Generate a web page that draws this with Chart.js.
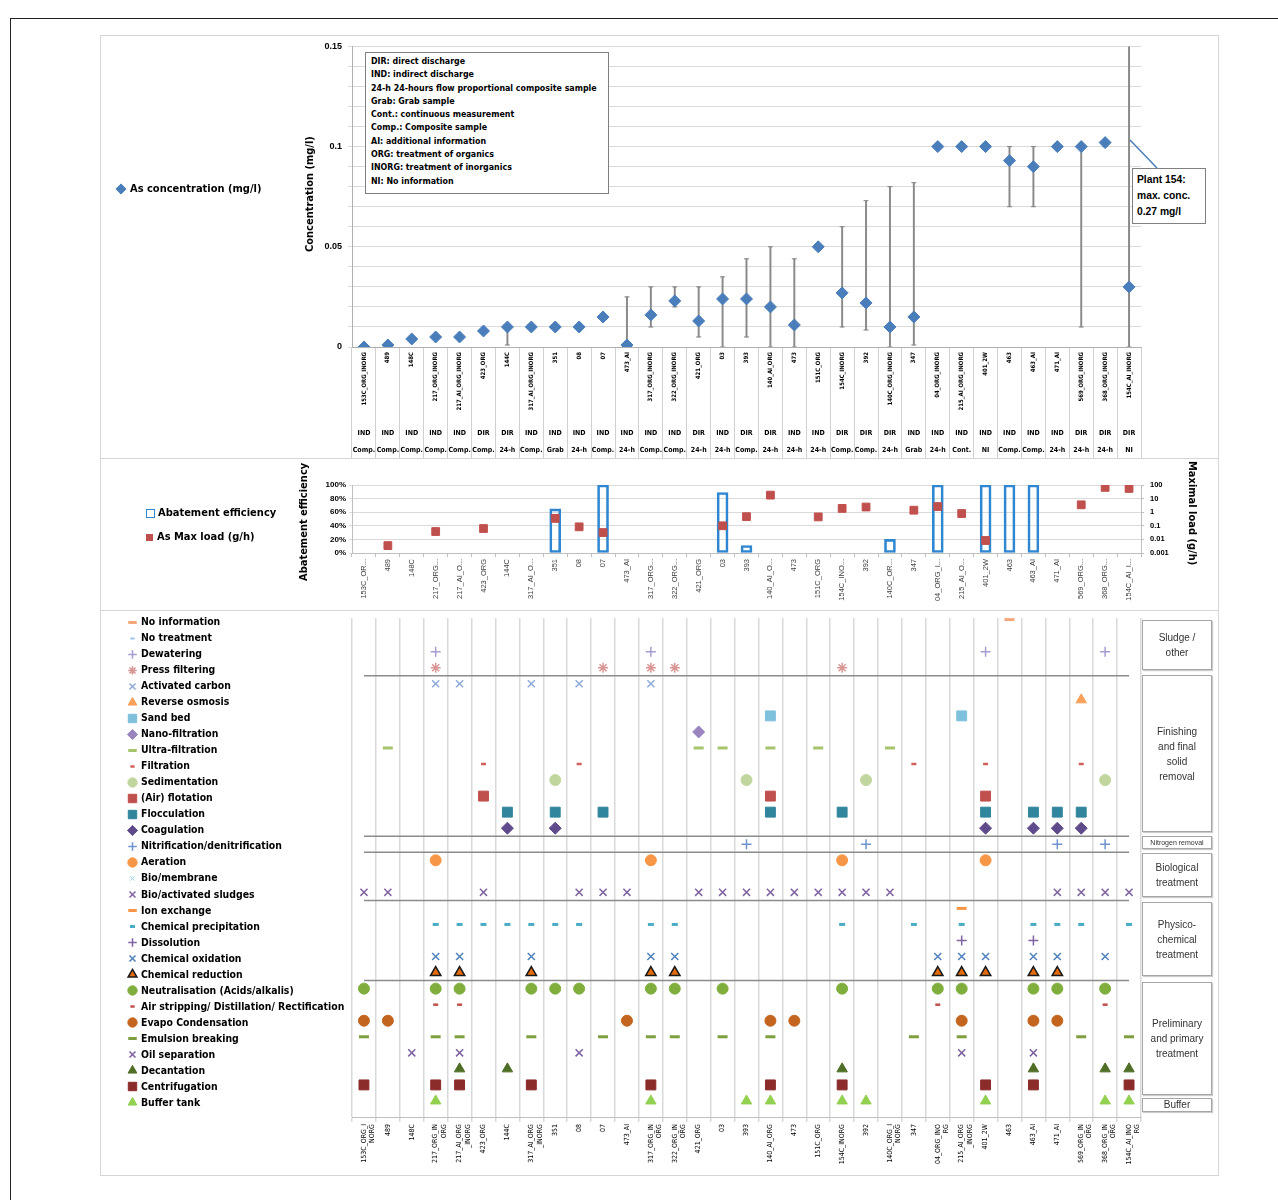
<!DOCTYPE html>
<html>
<head>
<meta charset="utf-8">
<title>As concentration, load and treatment per plant</title>
<script src="https://cdn.jsdelivr.net/npm/chart.js@4.4.0/dist/chart.umd.min.js"></script>
<style>
body{margin:0;background:#fff;font-family:'Liberation Sans',Arial,sans-serif;color:#000;}
#page{position:relative;width:1278px;height:1200px;overflow:hidden;}
.outer{position:absolute;left:10px;top:18px;width:1400px;height:1400px;border:1.5px solid #222;}
.frame{position:absolute;border:1px solid #d6d6d6;box-sizing:border-box;}
canvas{position:absolute;}
.narrow{font-family:'Liberation Sans Narrow','DejaVu Sans Condensed','Arial Narrow',sans-serif;}
.vtitle{position:absolute;white-space:nowrap;font-weight:bold;font-size:11px;transform-origin:0 0;}
.note{position:absolute;left:365px;top:52px;width:244px;height:142px;border:1px solid #808080;background:#fff;box-sizing:border-box;padding:2px 0 0 5px;font-weight:bold;font-size:8.8px;line-height:13.3px;white-space:nowrap;}
.plant{position:absolute;left:1132px;top:168px;width:74px;height:56px;border:1px solid #808080;background:#fff;box-sizing:border-box;padding:3px 0 0 4px;font-weight:bold;font-size:10.3px;line-height:16px;}
.leg{position:absolute;height:16px;line-height:16px;white-space:nowrap;font-weight:bold;font-size:11px;}
.leg canvas{position:static;vertical-align:middle;margin-right:2px;}
.grp{position:absolute;left:1142px;width:70px;border:1px solid #a6a6a6;box-sizing:border-box;font-size:10px;line-height:15px;color:#333;text-align:center;display:flex;align-items:center;justify-content:center;box-shadow:1px 1px 1px #ccc;}
</style>
</head>
<body>
<div id="page">
  <div class="outer"></div>
  <div class="frame" style="left:100px;top:35px;width:1119px;height:424px;"></div>
  <div class="frame" style="left:100px;top:458px;width:1119px;height:153px;"></div>
  <div class="frame" style="left:100px;top:610px;width:1119px;height:566px;"></div>

  <canvas id="cTop" width="1118" height="423" style="left:100px;top:35px;"></canvas>
  <canvas id="cMid" width="1118" height="152" style="left:100px;top:458px;"></canvas>
  <canvas id="cBot" width="1118" height="565" style="left:100px;top:610px;"></canvas>

  <div class="vtitle narrow" style="left:303px;top:252px;transform:rotate(-90deg);">Concentration (mg/l)</div>
  <div class="vtitle narrow" style="left:297px;top:581px;transform:rotate(-90deg);">Abatement efficiency</div>
  <div class="vtitle narrow" style="left:1199px;top:461px;transform:rotate(90deg);">Maximal load (g/h)</div>

  <div class="leg narrow" id="legConc" style="left:114px;top:181px;"></div>
  <div class="leg narrow" style="left:146px;top:505px;"><span style="display:inline-block;width:7px;height:7px;border:1.5px solid #2f86d1;vertical-align:middle;margin-right:3px;"></span>Abatement efficiency</div>
  <div class="leg narrow" style="left:146px;top:529px;"><span style="display:inline-block;width:7px;height:7px;background:#c0504d;vertical-align:middle;margin-right:4px;"></span>As Max load (g/h)</div>

  <div class="note narrow">DIR: direct discharge<br>IND: indirect discharge<br>24-h 24-hours flow proportional composite sample<br>Grab: Grab sample<br>Cont.: continuous measurement<br>Comp.: Composite sample<br>AI: additional information<br>ORG: treatment of organics<br>INORG: treatment of inorganics<br>NI: No information</div>

  <svg style="position:absolute;left:0;top:0;" width="1278" height="300"><line x1="1157" y1="168" x2="1130" y2="140" stroke="#4a7ebb" stroke-width="1.5"/></svg>
  <div class="plant">Plant 154:<br>max. conc.<br>0.27 mg/l</div>

  <div id="treatLegend"></div>

  <div class="grp" style="top:620px;height:50px;">Sludge /<br>other</div>
  <div class="grp" style="top:675px;height:157px;">Finishing<br>and final<br>solid<br>removal</div>
  <div class="grp" style="top:836px;height:13px;font-size:7px;line-height:9px;">Nitrogen removal</div>
  <div class="grp" style="top:853px;height:44px;">Biological<br>treatment</div>
  <div class="grp" style="top:902px;height:74px;">Physico-<br>chemical<br>treatment</div>
  <div class="grp" style="top:982px;height:113px;">Preliminary<br>and primary<br>treatment</div>
  <div class="grp" style="top:1098px;height:14px;line-height:12px;">Buffer</div>
</div>

<script>
// plants, in the order of the x axis
const plants = ['153C_ORG_INORG','489','148C','217_ORG_INORG','217_AI_ORG_INORG','423_ORG','144C','317_AI_ORG_INORG','351','08','07','473_AI','317_ORG_INORG','322_ORG_INORG','421_ORG','03','393','140_AI_ORG','473','151C_ORG','154C_INORG','392','140C_ORG_INORG','347','04_ORG_INORG','215_AI_ORG_INORG','401_2W','463','463_AI','471_AI','569_ORG_INORG','368_ORG_INORG','154C_AI_INORG'];
const discharge = ['IND','IND','IND','IND','IND','DIR','DIR','IND','IND','IND','IND','IND','IND','IND','DIR','IND','DIR','DIR','IND','IND','DIR','DIR','DIR','IND','IND','IND','IND','IND','IND','IND','DIR','DIR','DIR'];
const sampling = ['Comp.','Comp.','Comp.','Comp.','Comp.','Comp.','24-h','Comp.','Grab','24-h','Comp.','24-h','Comp.','Comp.','24-h','24-h','Comp.','24-h','24-h','24-h','Comp.','Comp.','24-h','Grab','24-h','Cont.','NI','Comp.','Comp.','24-h','24-h','24-h','NI'];
const midNames = ['153C_OR...','489','148C','217_ORG...','217_AI_O...','423_ORG','144C','317_AI_O...','351','08','07','473_AI','317_ORG...','322_ORG...','421_ORG','03','393','140_AI_O...','473','151C_ORG','154C_INO...','392','140C_OR...','347','04_ORG_I...','215_AI_O...','401_2W','463','463_AI','471_AI','569_ORG...','368_ORG...','154C_AI_I...'];
const bottomNames = [['153C_ORG_I','NORG'],'489','148C',['217_ORG_IN','ORG'],['217_AI_ORG','_INORG'],'423_ORG','144C',['317_AI_ORG','_INORG'],'351','08','07','473_AI',['317_ORG_IN','ORG'],['322_ORG_IN','ORG'],'421_ORG','03','393','140_AI_ORG','473','151C_ORG','154C_INORG','392',['140C_ORG_I','NORG'],'347',['04_ORG_INO','RG'],['215_AI_ORG','_INORG'],'401_2W','463','463_AI','471_AI',['569_ORG_IN','ORG'],['368_ORG_IN','ORG'],['154C_AI_INO','RG']];

// As concentration (mg/l), with min / max range
const conc    = [0,0.001,0.004,0.005,0.005,0.008,0.01,0.01,0.01,0.01,0.015,0.001,0.016,0.023,0.013,0.024,0.024,0.02,0.011,0.05,0.027,0.022,0.01,0.015,0.1,0.1,0.1,0.093,0.09,0.1,0.1,0.102,0.03];
const concMin = [null,null,null,null,null,null,0.001,null,null,null,null,0.001,0.01,0.02,0.005,0,0.005,0,0,null,0.01,0.0085,0,0.001,null,null,null,0.07,0.07,null,0.01,0.1,0];
const concMax = [null,null,null,null,null,null,0.01,null,null,null,null,0.025,0.03,0.03,0.03,0.035,0.044,0.05,0.044,null,0.06,0.073,0.08,0.082,null,null,null,0.1,0.1,null,0.1,0.103,0.27];
const concTicks = [0,0.05,0.1,0.15];

// abatement efficiency (%) and max load (g/h)
const abatement = [null,null,null,null,null,null,null,null,65,null,100,null,null,null,null,89,11,null,null,null,null,null,20,null,100,null,100,100,100,null,null,null,null];
const maxLoad = [null,0.0035,null,0.038,null,0.063,null,null,0.35,0.084,0.032,null,null,null,null,0.1,0.47,18,null,0.45,1.9,2.4,null,1.4,2.6,0.8,0.0083,null,null,null,3.5,67,56];
const loadTicks = [0.001,0.01,0.1,1,10,100];

// treatment steps and the plants (1-based column) that use them
const treatments = ['No information','No treatment','Dewatering','Press filtering','Activated carbon','Reverse osmosis','Sand bed','Nano-filtration','Ultra-filtration','Filtration','Sedimentation','(Air) flotation','Flocculation','Coagulation','Nitrification/denitrification','Aeration','Bio/membrane','Bio/activated sludges','Ion exchange','Chemical precipitation','Dissolution','Chemical oxidation','Chemical reduction','Neutralisation (Acids/alkalis)','Air stripping/ Distillation/ Rectification','Evapo Condensation','Emulsion breaking','Oil separation','Decantation','Centrifugation','Buffer tank'];
const usedAt = [
  [28],
  [],
  [4,13,27,32],
  [4,11,13,14,21],
  [4,5,8,10,13],
  [31],
  [18,26],
  [15],
  [2,15,16,18,20,23],
  [6,10,24,27,31],
  [9,17,22,32],
  [6,18,27],
  [7,9,11,18,21,27,29,30,31],
  [7,9,27,29,30,31],
  [17,22,30,32],
  [4,13,21,27],
  [],
  [1,2,6,10,11,12,15,16,17,18,19,20,21,22,23,30,31,32,33],
  [26],
  [4,5,6,7,8,9,10,13,14,21,24,26,29,30,31,33],
  [26,29],
  [4,5,8,13,14,25,26,27,29,30,32],
  [4,5,8,13,14,25,26,27,29,30],
  [1,4,5,8,9,10,13,14,16,21,25,26,29,30,32],
  [4,5,25,32],
  [1,2,12,18,19,26,29,30],
  [1,4,5,8,11,13,14,16,18,24,26,31,33],
  [3,5,10,26,29],
  [5,7,21,29,32,33],
  [1,4,5,8,13,18,21,27,29,33],
  [4,13,17,18,21,22,27,32,33]
];
const groupBreaks = [3.5,13.5,14.5,17.5,22.5];

// marker looks, one per treatment
const markers = [
  {s:'line',c:'#f5a67a',r:5,w:3},
  {s:'line',c:'#9cc3e5',r:2.5,w:2},
  {s:'cross',c:'#a79bcf',r:5,w:1.5},
  {s:'star',c:'#d99694',r:5,w:1.5},
  {s:'crossRot',c:'#8eaadb',r:5,w:1.5},
  {s:'triangle',c:'#f9a05a',r:6,w:1},
  {s:'rect',c:'#7fc0dc',r:7,w:1},
  {s:'rectRot',c:'#9a85bf',r:6,w:1},
  {s:'line',c:'#a5c46b',r:5,w:3},
  {s:'line',c:'#d0605c',r:2.5,w:2.5},
  {s:'circle',c:'#c1d69e',r:5.5,w:1},
  {s:'rect',c:'#c0504d',r:7,w:1},
  {s:'rect',c:'#31859c',r:7,w:1},
  {s:'rectRot',c:'#5f4b8b',r:6,w:1},
  {s:'cross',c:'#6f94cf',r:5,w:1.5},
  {s:'circle',c:'#f79646',r:5.5,w:1},
  {s:'crossRot',c:'#9cd3e8',r:3.5,w:1},
  {s:'crossRot',c:'#8064a2',r:5,w:1.5},
  {s:'line',c:'#f79646',r:5,w:3},
  {s:'line',c:'#4bacc6',r:3,w:3},
  {s:'cross',c:'#8064a2',r:5,w:1.5},
  {s:'crossRot',c:'#4f81bd',r:5,w:1.5},
  {s:'triangle',c:'#e46c0a',b:'#1a1a1a',r:6,w:1.5},
  {s:'circle',c:'#7fae3d',r:5.5,w:1},
  {s:'line',c:'#c0504d',r:2.5,w:2.5},
  {s:'circle',c:'#c3651e',r:5.5,w:1},
  {s:'line',c:'#7f9f3f',r:5,w:3},
  {s:'crossRot',c:'#7d60a0',r:5,w:1.5},
  {s:'triangle',c:'#4f6e26',r:6,w:1},
  {s:'rect',c:'#8b2c2b',r:7,w:1},
  {s:'triangle',c:'#92d050',r:6,w:1}
];

const NARROW = "'Liberation Sans Narrow','DejaVu Sans Condensed','Arial Narrow',sans-serif";
Chart.defaults.font.family = "'Liberation Sans',Arial,sans-serif";
Chart.defaults.color = '#000';
Chart.defaults.animation = false;
const noLegend = {legend:{display:false}, tooltip:{enabled:false}};

// small marker canvas for html legends
function markerIcon(m, w, h){
  const cv = document.createElement('canvas');
  cv.width = w; cv.height = h;
  const ctx = cv.getContext('2d');
  ctx.fillStyle = m.c;
  ctx.strokeStyle = m.b || m.c;
  ctx.lineWidth = m.w;
  Chart.helpers.drawPoint(ctx, {pointStyle:m.s, radius:m.r*0.85, borderWidth:m.w, rotation:0}, w/2, h/2);
  return cv;
}

// ---- top: concentration ----
const errRange = concMin.map((lo, i) => lo === null ? null : [lo, concMax[i]]);
const sampleRows = discharge.map((d, i) => [d, sampling[i]]);

new Chart(document.getElementById('cTop'), {
  type:'bar',
  data:{
    labels: plants,
    datasets:[
      {type:'line', label:'As concentration (mg/l)', data:conc, showLine:false, pointStyle:'rectRot', pointRadius:6, pointHoverRadius:6, backgroundColor:'#4a7ebb', borderColor:'#4a7ebb', order:0},
      {type:'line', data:concMax, showLine:false, pointStyle:'line', pointRadius:2.5, pointBorderWidth:1, borderColor:'#808080', order:1},
      {type:'line', data:concMin, showLine:false, pointStyle:'line', pointRadius:2.5, pointBorderWidth:1, borderColor:'#808080', order:1},
      {type:'bar', data:errRange, backgroundColor:'#8a8a8a', barThickness:1.3, order:2}
    ]
  },
  options:{
    responsive:false,
    layout:{padding:{top:10, right:77}},
    plugins:noLegend,
    scales:{
      x:{type:'category', offset:true, weight:0,
        grid:{offset:true, drawOnChartArea:false, tickLength:80, color:'#d0d0d0'},
        border:{color:'#b0b0b0'},
        ticks:{autoSkip:false, minRotation:90, maxRotation:90, padding:-75, font:{size:6, weight:'bold', family:NARROW}},
        afterFit:s => { s.height = 80; }},
      x2:{type:'category', labels:sampleRows, offset:true, position:'bottom', weight:1,
        grid:{offset:true, drawOnChartArea:false, tickLength:31, color:'#d0d0d0'},
        border:{display:false},
        ticks:{autoSkip:false, minRotation:0, maxRotation:0, padding:-33.4, font:{size:7, weight:'bold', family:NARROW, lineHeight:2.4}},
        afterFit:s => { s.height = 31; }},
      y:{min:0, max:0.15,
        grid:{color:'#dadada', tickLength:4},
        border:{color:'#b0b0b0'},
        afterBuildTicks:s => { s.ticks = Array.from({length:16}, (_, k) => ({value:k/100})); },
        ticks:{font:{size:9, weight:'bold'}, padding:6,
          callback:v => concTicks.some(t => Math.abs(t - v) < 1e-9) ? String(+v.toFixed(2)) : ''},
        afterFit:s => { s.width = 252; }}
    }
  }
});

// ---- middle: abatement efficiency / max load ----
new Chart(document.getElementById('cMid'), {
  type:'bar',
  data:{
    labels: midNames,
    datasets:[
      {type:'line', label:'As Max load (g/h)', data:maxLoad, yAxisID:'y2', showLine:false, pointStyle:'rect', pointRadius:5.5, pointHoverRadius:5.5, backgroundColor:'#c0504d', borderColor:'#c0504d', order:0},
      {type:'bar', label:'Abatement efficiency', data:abatement, yAxisID:'y', backgroundColor:'rgba(255,255,255,0)', borderColor:'#2f86d1', borderWidth:2, borderSkipped:false, barThickness:11, order:1}
    ]
  },
  options:{
    responsive:false,
    layout:{padding:{top:27}},
    plugins:noLegend,
    scales:{
      x:{grid:{offset:true, drawOnChartArea:false, tickLength:4, color:'#bfbfbf'},
        border:{color:'#bfbfbf'},
        ticks:{autoSkip:false, minRotation:90, maxRotation:90, padding:2, font:{size:7.5}, color:'#404040'},
        afterFit:s => { s.height = 57; }},
      y:{min:0, max:100,
        grid:{color:'#dadada', tickLength:3},
        border:{color:'#bfbfbf'},
        ticks:{stepSize:20, font:{size:8, weight:'bold'}, padding:3, callback:v => v + '%'},
        afterFit:s => { s.width = 252; }},
      y2:{type:'logarithmic', position:'right', min:0.001, max:100,
        grid:{drawOnChartArea:false, tickLength:3, color:'#bfbfbf'},
        border:{color:'#bfbfbf'},
        afterBuildTicks:s => { s.ticks = loadTicks.map(v => ({value:v})); },
        ticks:{autoSkip:false, font:{size:7.5, weight:'bold'}, padding:6, callback:v => String(v)},
        afterFit:s => { s.width = 77; }}
    }
  }
});

// ---- bottom: treatment matrix ----
const treatSets = treatments.map((name, r) => {
  const m = markers[r];
  return {type:'line', label:name, showLine:false, clip:false,
    data: plants.map((p, i) => usedAt[r].includes(i + 1) ? r : null),
    pointStyle:m.s, pointRadius:m.r, pointHoverRadius:m.r, pointBorderWidth:m.w,
    pointBackgroundColor:m.c, pointBorderColor:m.b || m.c};
});
const breakSets = groupBreaks.map(v => ({type:'line', data:plants.map(() => v), borderColor:'#8c8c8c', borderWidth:1.5, pointRadius:0}));

new Chart(document.getElementById('cBot'), {
  type:'line',
  data:{labels: bottomNames, datasets: breakSets.concat(treatSets)},
  options:{
    responsive:false,
    layout:{padding:{top:4, left:252, right:77}},
    plugins:noLegend,
    scales:{
      x:{offset:true,
        grid:{offset:true, color:'#d9d9d9', lineWidth:1.5, tickLength:5},
        border:{color:'#bfbfbf'},
        ticks:{autoSkip:false, minRotation:90, maxRotation:90, padding:2, font:{size:7, family:NARROW}},
        afterFit:s => { s.height = 58; }},
      y:{type:'linear', reverse:true, min:-0.1, max:31, display:false}
    }
  }
});

// html legends
document.getElementById('legConc').prepend(markerIcon({s:'rectRot', c:'#4a7ebb', r:6, w:1}, 14, 14));
document.getElementById('legConc').append('As concentration (mg/l)');

const tl = document.getElementById('treatLegend');
treatments.forEach((name, r) => {
  const d = document.createElement('div');
  d.className = 'leg narrow';
  d.style.left = '126px';
  d.style.top = (613 + r * 16.03) + 'px';
  d.style.fontSize = '10.4px';
  d.appendChild(markerIcon(markers[r], 13, 13));
  d.append(name);
  tl.appendChild(d);
});
</script>
</body>
</html>
